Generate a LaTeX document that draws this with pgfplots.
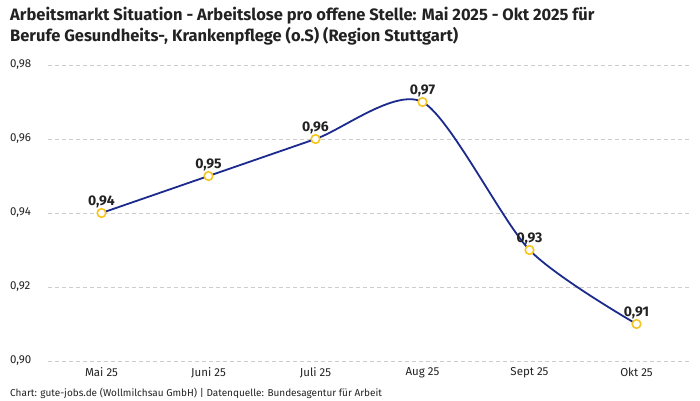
\documentclass[border=0pt]{standalone}
\usepackage{pgfplots}
\pgfplotsset{compat=1.18}
\usepackage{fontspec}
\setmainfont{Fira Sans}
\definecolor{linie}{HTML}{1B2A8C}
\definecolor{punkt}{HTML}{F7C520}
\definecolor{gitter}{HTML}{CCCCCC}
\definecolor{text}{HTML}{222222}

\begin{document}
\begin{tikzpicture}[x=1pt,y=1pt]
  \useasboundingbox (0pt,0pt) rectangle (700pt,400pt);
  \node[anchor=north west, inner sep=0, align=left, text=text,
        font=\fontsize{16.5}{20.5}\selectfont\bfseries] at (10pt,393pt)
    {Arbeitsmarkt Situation - Arbeitslose pro offene Stelle: Mai 2025 - Okt 2025 für\\
     Berufe Gesundheits-, Krankenpflege (o.S) (Region Stuttgart)};
  \node[anchor=west, inner sep=0, text=text, font=\fontsize{10}{12}\selectfont] at (10pt,7pt)
    {Chart: gute-jobs.de (Wollmilchsau GmbH) | Datenquelle: Bundesagentur für Arbeit};

  \begin{axis}[
      at={(48pt,39pt)}, anchor=south west,
      scale only axis, width=642pt, height=296pt,
      xmin=-0.5, xmax=5.5, ymin=0.90, ymax=0.98,
      xtick={0,...,5},
      xticklabels={Mai 25, Juni 25, Juli 25, Aug 25, Sept 25, Okt 25},
      ytick={0.90,0.92,...,0.98},
      axis line style={draw=none},
      major tick length=0,
      ymajorgrids, grid style={gitter, dash pattern=on 4pt off 3pt, line width=0.6pt},
      yticklabel style={anchor=west, inner sep=0, xshift=-38pt,
                        font=\fontsize{11.5}{13}\selectfont, text=text},
      xticklabel style={font=\fontsize{11.5}{13}\selectfont, text=text, yshift=-3pt},
      /pgf/number format/.cd, use comma, fixed, fixed zerofill, precision=2,
      /pgf/number format/assume math mode=true,
      /pgfplots/.cd,
      clip=false,
    ]
    \addplot[linie, line width=1.8pt, smooth, tension=0.45,
             mark=*, mark size=4.3pt,
             mark options={draw=punkt, fill=white, line width=1.6pt},
             nodes near coords,
             every node near coord/.append style={font=\fontsize{14}{16}\selectfont\bfseries,
                 text=text, yshift=1pt, /pgf/number format/.cd, use comma, fixed, fixed zerofill, precision=2,
                 assume math mode=true}]
      coordinates {(0,0.94) (1,0.95) (2,0.96) (3,0.97) (4,0.93) (5,0.91)};
  \end{axis}
\end{tikzpicture}
\end{document}
